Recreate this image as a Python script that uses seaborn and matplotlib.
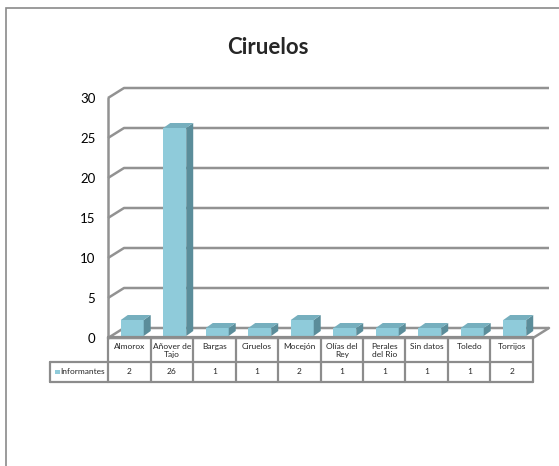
import matplotlib
matplotlib.use("Agg")
import matplotlib.pyplot as plt
import numpy as np
import pandas as pd
import seaborn as sns
from matplotlib.patches import Polygon, Rectangle

# Data
categories = ["Almorox", "Añover de\nTajo", "Bargas", "Ciruelos", "Mocejón",
              "Olías del\nRey", "Perales\ndel Rio", "Sin datos", "Toledo", "Torrijos"]
informantes = [2, 26, 1, 1, 2, 1, 1, 1, 1, 2]
y_ticks = [0, 5, 10, 15, 20, 25, 30]
series_name = "Informantes"
title = "Ciruelos"

# Style
sns.set_theme(style="white")
plt.rcParams["font.family"] = ["Lato", "DejaVu Sans"]

FRONT = "#8fcbda"
SIDE = "#5b8d9a"
TOP = "#76afbe"
GRID = "#929292"

W, H = 559, 466
fig = plt.figure(figsize=(W / 100, H / 100), dpi=100)
fig.patch.set_facecolor("white")

# Front plane of the plot area (pixels)
AX_L, AX_R, AX_B, AX_T = 108, 533, 338, 98
ax = fig.add_axes([AX_L / W, 1 - AX_B / H, (AX_R - AX_L) / W, (AX_B - AX_T) / H])
ax.set_facecolor("none")

df = pd.DataFrame({"Municipio": categories, series_name: informantes})
sns.barplot(data=df, x="Municipio", y=series_name, color=FRONT, saturation=1,
            width=0.54, ax=ax, zorder=4, edgecolor="none")
ax.set_xlim(-0.5, len(categories) - 0.5)
ax.set_ylim(0, 30)

# pixel -> data conversion for the fixed axes size
px_x = (AX_R - AX_L) / len(categories)
px_y = (AX_B - AX_T) / 30.0
def dx(p):
    return p / px_x
def dy(p):
    return p / px_y

# Depth of the wall/floor and of each block
DX, DY = dx(16), dy(10)
SX, SY = dx(3), dy(2)
EX, EY = dx(7), dy(5)

x_left, x_right = -0.5, len(categories) - 0.5

# Back wall gridlines with slanted ties to the front axis
for t in y_ticks:
    ax.plot([x_left, x_left + DX, x_right + DX], [t, t + DY, t + DY],
            color=GRID, lw=1.8, clip_on=False, zorder=1, solid_capstyle="butt")
# Floor front edge
ax.plot([x_left, x_right, x_right + DX], [0, 0, DY],
        color=GRID, lw=1.8, clip_on=False, zorder=2)
# Front vertical axis
ax.plot([x_left, x_left], [0, 30], color=GRID, lw=1.8, clip_on=False, zorder=2)

# Turn each bar into a shaded block
for p in list(ax.patches):
    x0 = p.get_x() + SX
    w = p.get_width()
    h = p.get_height()
    p.set_x(x0)
    p.set_y(SY)
    p.set_clip_on(False)
    x1 = x0 + w
    yb, yt = SY, SY + h
    side = Polygon([(x1, yb), (x1 + EX, yb + EY), (x1 + EX, yt + EY), (x1, yt)],
                   closed=True, facecolor=SIDE, edgecolor="none", zorder=4, clip_on=False)
    top = Polygon([(x0, yt), (x1, yt), (x1 + EX, yt + EY), (x0 + EX, yt + EY)],
                  closed=True, facecolor=TOP, edgecolor="none", zorder=4, clip_on=False)
    ax.add_patch(side)
    ax.add_patch(top)

ax.set_yticks(y_ticks)
ax.set_yticklabels([str(t) for t in y_ticks])
ax.set_xticks([])
ax.set_xlabel("")
ax.set_ylabel("")
ax.tick_params(axis="y", length=0, pad=9, labelsize=9.5, labelcolor="black")
for s in ax.spines.values():
    s.set_visible(False)

# Data table under the chart
TAB_L, TAB_R, TAB_T, TAB_B = 50, 533, 337, 382
ROW_SPLIT = 362
tab = fig.add_axes([TAB_L / W, 1 - TAB_B / H, (TAB_R - TAB_L) / W, (TAB_B - TAB_T) / H])
XL = x_left - (AX_L - TAB_L) / px_x
tab.set_xlim(XL, x_right)
tab.set_ylim(0, TAB_B - TAB_T)
tab.axis("off")
hT = TAB_B - TAB_T
hS = TAB_B - ROW_SPLIT
LC = "#8c8c8c"
lw = 1.6
tab.plot([x_left, x_right], [hT, hT], color=LC, lw=lw, clip_on=False)
tab.plot([XL, x_right], [hS, hS], color=LC, lw=lw, clip_on=False)
tab.plot([XL, x_right], [0, 0], color=LC, lw=lw, clip_on=False)
for xv in np.arange(x_left, x_right + 0.01, 1.0):
    tab.plot([xv, xv], [0, hT], color=LC, lw=lw, clip_on=False)
tab.plot([XL, XL], [0, hS], color=LC, lw=lw, clip_on=False)

for i, (c, v) in enumerate(zip(categories, informantes)):
    tab.text(i, hT - 6, c, ha="center", va="top", fontsize=6, linespacing=1.15)
    tab.text(i, hS / 2, str(v), ha="center", va="center", fontsize=6)

tab.add_patch(Rectangle((XL + dx(5), hS / 2 - 2.2), dx(4.5), 4.5,
                        facecolor=FRONT, edgecolor="none", clip_on=False))
tab.text(XL + dx(10), hS / 2, series_name, ha="left", va="center", fontsize=6)

# Title
fig.text(268 / W, 1 - 47 / H, title, ha="center", va="center",
         fontsize=16, fontweight="bold")

# Chart frame
fig.add_artist(Rectangle((6 / W, -0.05), 1.2, 1 - 8 / H + 0.05, transform=fig.transFigure,
                         fill=False, edgecolor="#8a8a8a", lw=1.2))

fig.savefig("out.png", dpi=100, facecolor="white")
